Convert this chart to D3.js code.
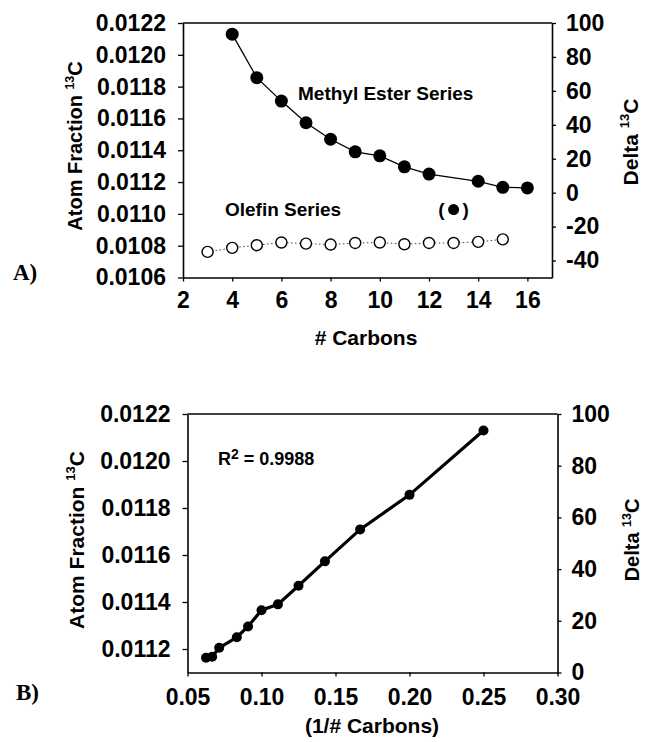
<!DOCTYPE html>
<html>
<head>
<meta charset="utf-8">
<script src="https://cdn.jsdelivr.net/npm/d3@7"></script>
<style>
  html, body { margin: 0; padding: 0; background: #fff; }
  svg { display: block; }
</style>
</head>
<body>
<svg id="chart" width="646" height="742"></svg>
<script>
// ---------------- DATA ----------------
const esterCarbons = [4, 5, 6, 7, 8, 9, 10, 11, 12, 14, 15, 16];
const esterAtomFraction = [0.012130, 0.011856, 0.011709, 0.011573, 0.011469, 0.011390,
                           0.011365, 0.011296, 0.011250, 0.011205, 0.011167, 0.011163];
const olefinCarbons = [3, 4, 5, 6, 7, 8, 9, 10, 11, 12, 13, 14, 15];
const olefinAtomFraction = [0.010761, 0.010786, 0.010803, 0.010820, 0.010813, 0.010807,
                            0.010817, 0.010820, 0.010809, 0.010817, 0.010817, 0.010824, 0.010840];
const outlierCarbons = [13];
const outlierAtomFraction = [0.011027];

const topXTicks = [2, 4, 6, 8, 10, 12, 14, 16];
const topLeftTicks = [0.0106, 0.0108, 0.0110, 0.0112, 0.0114, 0.0116, 0.0118, 0.0120, 0.0122];
const topRightTicks = [-40, -20, 0, 20, 40, 60, 80, 100];
const botXTicks = [0.05, 0.10, 0.15, 0.20, 0.25, 0.30];
const botLeftTicks = [0.0112, 0.0114, 0.0116, 0.0118, 0.0120, 0.0122];
const botRightTicks = [0, 20, 40, 60, 80, 100];
const rSquaredText = "0.9988";

// ---------------- DRAW ----------------
const SANS = '"Liberation Sans", Arial, Helvetica, sans-serif';
const SERIF = '"Liberation Serif", "Times New Roman", serif';
const svg = d3.select("#chart").style("font-family", SANS);
const TICK_FONT = 23;
const intFmt = d => String(d).replace("\u2212", "-");

function styleAxis(g) {
  g.selectAll("path.domain").attr("stroke", "#000").attr("stroke-width", 1.6);
  g.selectAll(".tick line").attr("stroke", "#000").attr("stroke-width", 1.3);
  g.selectAll(".tick text")
    .attr("font-size", TICK_FONT)
    .attr("font-weight", "bold")
    .style("font-family", SANS)
    .attr("fill", "#000");
}

function rotLabel(x, y, main, sup, after, size) {
  const t = svg.append("text")
    .attr("transform", `translate(${x},${y}) rotate(-90)`)
    .attr("text-anchor", "middle")
    .attr("font-size", size)
    .attr("font-weight", "bold");
  t.append("tspan").text(main);
  t.append("tspan").attr("font-size", size * 0.62).attr("dy", -size * 0.42).text(sup);
  t.append("tspan").attr("dy", size * 0.42).text(after);
  return t;
}

// ===== Panel A =====
const A = { l: 183, r: 552, t: 23, b: 277.5 };
const xA = d3.scaleLinear().domain([2, 17]).range([A.l, A.r]);
const yA = d3.scaleLinear().domain([0.0106, 0.0122]).range([A.b, A.t]);
const yAR = d3.scaleLinear().domain([-50, 100]).range([A.b, A.t]);

svg.append("line").attr("x1", A.l).attr("x2", A.r).attr("y1", A.t).attr("y2", A.t)
  .attr("stroke", "#000").attr("stroke-width", 1.6);

svg.append("g").attr("transform", `translate(0,${A.b})`)
  .call(d3.axisBottom(xA).tickValues(topXTicks).tickFormat(intFmt).tickSize(4).tickSizeOuter(0).tickPadding(10))
  .call(styleAxis);
svg.append("g").attr("transform", `translate(${A.l},0)`)
  .call(d3.axisLeft(yA).tickValues(topLeftTicks).tickFormat(d3.format(".4f")).tickSize(5).tickSizeOuter(0).tickPadding(12))
  .call(styleAxis);
svg.append("g").attr("transform", `translate(${A.r},0)`)
  .call(d3.axisRight(yAR).tickValues(topRightTicks).tickFormat(intFmt).tickSize(4).tickSizeOuter(0).tickPadding(10))
  .call(styleAxis);

// olefin dotted line + open circles
const olefin = olefinCarbons.map((c, i) => [c, olefinAtomFraction[i]]);
svg.append("path").datum(olefin)
  .attr("d", d3.line().x(d => xA(d[0])).y(d => yA(d[1])))
  .attr("fill", "none").attr("stroke", "#444").attr("stroke-width", 1).attr("stroke-dasharray", "1.5,2.5");
svg.append("g").selectAll("circle").data(olefin).join("circle")
  .attr("cx", d => xA(d[0])).attr("cy", d => yA(d[1])).attr("r", 5.5)
  .attr("fill", "#fff").attr("stroke", "#000").attr("stroke-width", 1.4);

// ester line + filled circles
const ester = esterCarbons.map((c, i) => [c, esterAtomFraction[i]]);
svg.append("path").datum(ester)
  .attr("d", d3.line().x(d => xA(d[0])).y(d => yA(d[1])))
  .attr("fill", "none").attr("stroke", "#000").attr("stroke-width", 1.3);
svg.append("g").selectAll("circle").data(ester).join("circle")
  .attr("cx", d => xA(d[0])).attr("cy", d => yA(d[1])).attr("r", 6.5).attr("fill", "#000");

// outlier in parentheses
const outlier = outlierCarbons.map((c, i) => [c, outlierAtomFraction[i]]);
svg.append("g").selectAll("circle").data(outlier).join("circle")
  .attr("cx", d => xA(d[0])).attr("cy", d => yA(d[1])).attr("r", 5.5).attr("fill", "#000");
outlier.forEach(d => {
  svg.append("text").attr("x", xA(d[0]) - 9).attr("y", yA(d[1])).attr("dy", "0.35em")
    .attr("text-anchor", "end").attr("font-size", 19).attr("font-weight", "bold").text("(");
  svg.append("text").attr("x", xA(d[0]) + 9).attr("y", yA(d[1])).attr("dy", "0.35em")
    .attr("text-anchor", "start").attr("font-size", 19).attr("font-weight", "bold").text(")");
});

svg.append("text").attr("x", 298).attr("y", 93).attr("dy", "0.35em")
  .attr("font-size", 19).attr("font-weight", "bold").text("Methyl Ester Series");
svg.append("text").attr("x", 225).attr("y", 209).attr("dy", "0.35em")
  .attr("font-size", 19).attr("font-weight", "bold").text("Olefin Series");

rotLabel(82, 146, "Atom Fraction ", "13", "C", 20);
rotLabel(638, 142, "Delta ", "13", "C", 21);
svg.append("text").attr("x", 366).attr("y", 345).attr("text-anchor", "middle")
  .attr("font-size", 21).attr("font-weight", "bold").text("# Carbons");
svg.append("text").attr("x", 13).attr("y", 280)
  .style("font-family", SERIF)
  .attr("font-size", 23).attr("font-weight", "bold").text("A)");

// ===== Panel B =====
const B = { l: 187.5, r: 557.5, t: 414, b: 672.5 };
const xB = d3.scaleLinear().domain([0.05, 0.30]).range([B.l, B.r]);
const yB = d3.scaleLinear().domain([0.0111, 0.0122]).range([B.b, B.t]);
const yBR = d3.scaleLinear().domain([0, 100]).range([B.b, B.t]);

svg.append("line").attr("x1", B.l).attr("x2", B.r).attr("y1", B.t).attr("y2", B.t)
  .attr("stroke", "#000").attr("stroke-width", 1.6);
svg.append("g").attr("transform", `translate(0,${B.b})`)
  .call(d3.axisBottom(xB).tickValues(botXTicks).tickFormat(d3.format(".2f")).tickSize(4).tickSizeOuter(0).tickPadding(12))
  .call(styleAxis);
svg.append("g").attr("transform", `translate(${B.l},0)`)
  .call(d3.axisLeft(yB).tickValues(botLeftTicks).tickFormat(d3.format(".4f")).tickSize(5).tickSizeOuter(0).tickPadding(12))
  .call(styleAxis);
svg.append("g").attr("transform", `translate(${B.r},0)`)
  .call(d3.axisRight(yBR).tickValues(botRightTicks).tickFormat(intFmt).tickSize(4).tickSizeOuter(0).tickPadding(10))
  .call(styleAxis);

const inv = esterCarbons.map((c, i) => [1 / c, esterAtomFraction[i]]).sort((a, b) => a[0] - b[0]);
svg.append("path").datum(inv)
  .attr("d", d3.line().x(d => xB(d[0])).y(d => yB(d[1])))
  .attr("fill", "none").attr("stroke", "#000").attr("stroke-width", 3.2);
svg.append("g").selectAll("circle").data(inv).join("circle")
  .attr("cx", d => xB(d[0])).attr("cy", d => yB(d[1])).attr("r", 5).attr("fill", "#000");

const r2 = svg.append("text").attr("x", 218).attr("y", 465).attr("font-size", 18).attr("font-weight", "bold");
r2.append("tspan").text("R");
r2.append("tspan").attr("font-size", 14).attr("dy", -6).text("2");
r2.append("tspan").attr("dy", 6).text(" = " + rSquaredText);

rotLabel(84, 540, "Atom Fraction ", "13", "C", 21);
rotLabel(639, 540, "Delta ", "13", "C", 20);
svg.append("text").attr("x", 372).attr("y", 733).attr("text-anchor", "middle")
  .attr("font-size", 21).attr("font-weight", "bold").text("(1/# Carbons)");
svg.append("text").attr("x", 16).attr("y", 700)
  .style("font-family", SERIF)
  .attr("font-size", 23).attr("font-weight", "bold").text("B)");
</script>
</body>
</html>
